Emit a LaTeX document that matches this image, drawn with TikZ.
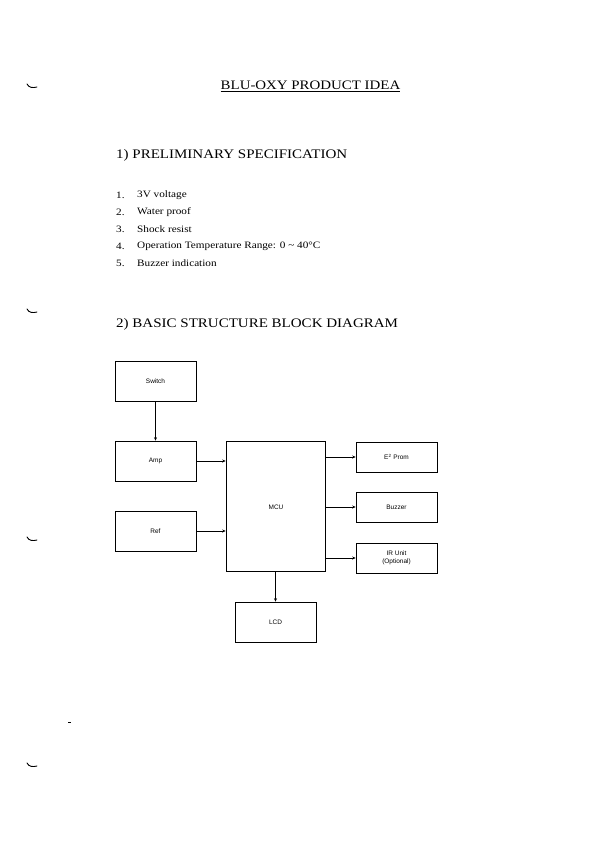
\documentclass[tikz,border=0pt]{standalone}
\usepackage{fontspec}
\setmainfont{Liberation Serif}
\newfontfamily\wideserif[FakeStretch=1.15]{Liberation Serif}
\newfontfamily\boxsans{Liberation Sans}
\usetikzlibrary{arrows.meta}
\begin{document}
\begin{tikzpicture}[x=1bp,y=-1bp,
  blk/.style={draw,line width=0.6pt,inner sep=0pt,minimum width=81bp,minimum height=40bp,
    font=\boxsans\fontsize{6.5}{7.5}\selectfont,align=center},
  flat/.style={blk,minimum height=30bp},
  conn/.style={line width=0.6pt,-{Stealth[length=3.5pt,width=3pt]}},
  heading/.style={anchor=west,inner sep=0pt,font=\wideserif\fontsize{13.1}{15}\selectfont},
  item/.style={anchor=west,inner sep=0pt,font=\wideserif\fontsize{9.8}{11}\selectfont},
  scanmark/.style={line width=0.9pt,line cap=round}]
\useasboundingbox (0,0) rectangle (612,842);
% scan marks
\draw[scanmark] (27,84) .. controls (29,88) and (33,88) .. (37,87);
\draw[scanmark] (27,309) .. controls (29,313) and (33,313) .. (37,312);
\draw[scanmark] (27,537) .. controls (29,541) and (33,541) .. (37,540);
\draw[scanmark] (27,763) .. controls (29,767) and (33,767) .. (37,766);
\draw[line width=0.6pt] (68,722) -- (71,722);
% title
\node[inner sep=0pt,font=\wideserif\fontsize{13}{15}\selectfont] (title) at (310.5,86) {\underline{BLU-OXY PRODUCT IDEA}};
\node[heading] (h1) at (116,155) {1) PRELIMINARY SPECIFICATION};
\foreach \n/\t [count=\i] in {1/3V voltage,2/Water proof,3/Shock resist,4/{Operation Temperature Range: 0 \textasciitilde{} 40\textdegree C},5/Buzzer indication}{
  \node[item] (num\i) at (116,{178+17*\i}) {\n.};
  \node[item] (txt\i) at (137,{178+17*\i}) {\t};
}
\node[heading] (h2) at (116,324) {2) BASIC STRUCTURE BLOCK DIAGRAM};
% blocks
\node[blk] (sw) at (155.5,381) {Switch};
\node[blk] (amp) at (155.5,461) {Amp};
\node[blk] (ref) at (155.5,531) {Ref};
\node[blk,minimum width=99bp,minimum height=130bp] (mcu) at (275.5,506) {};
\node[font=\boxsans\fontsize{6.5}{7.5}\selectfont,inner sep=0pt] (mculab) at (276,507) {MCU};
\node[flat] (e2) at (396.5,457) {E\textsuperscript{2} Prom};
\node[flat] (buz) at (396.5,507) {Buzzer};
\node[flat] (ir) at (396.5,558) {IR Unit\\(Optional)};
\node[blk] (lcd) at (275.5,622) {LCD};
% connectors
\draw[conn] (sw.south) -- (amp.north);
\draw[conn] (amp.east) -- (amp.east -| mcu.west);
\draw[conn] (ref.east) -- (ref.east -| mcu.west);
\draw[conn] (mcu.east |- e2.west) -- (e2.west);
\draw[conn] (mcu.east |- buz.west) -- (buz.west);
\draw[conn] (mcu.east |- ir.west) -- (ir.west);
\draw[conn] (mcu.south) -- (lcd.north);
\end{tikzpicture}
\end{document}
